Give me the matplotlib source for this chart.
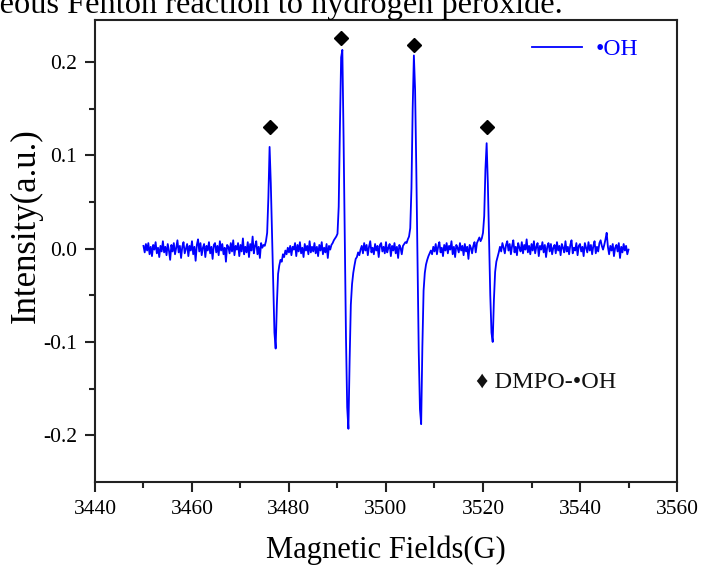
import numpy as np
import matplotlib
matplotlib.use("Agg")
import matplotlib.pyplot as plt

plt.rcParams['font.family'] = ['Liberation Serif', 'DejaVu Serif']
plt.rcParams['mathtext.fontset'] = 'stix'

# ---- data ----
field_start = 3450.0
field_step = 0.25
intensity = [
    0.003, -0.004, 0.005, -0.002, 0.006, -0.006, 0.002, -0.008, 0.004, -0.001, 0.007, -0.005, 0.001, -0.009, 0.003, -0.003, 0.008, -0.004, 0.002, -0.007,
    0.005, -0.002, -0.012, 0.004, -0.003, 0.006, -0.006, 0.001, 0.009, -0.004, 0.003, -0.010, 0.002, 0.007, -0.005, 0.000, 0.005, -0.008, 0.003, -0.002,
    0.008, -0.006, 0.002, -0.013, 0.004, 0.010, -0.003, 0.006, -0.007, 0.001, 0.005, -0.009, 0.003, -0.002, 0.007, -0.005, 0.002, -0.011, 0.004, 0.006,
    -0.004, 0.003, -0.007, 0.008, -0.002, 0.005, -0.006, 0.001, -0.014, 0.004, 0.002, -0.005, 0.006, -0.003, 0.009, -0.007, 0.003, -0.001, 0.006, -0.008,
    0.004, -0.003, 0.011, -0.006, 0.002, -0.004, 0.007, -0.009, 0.005, -0.002, 0.013, -0.005, 0.003, 0.008, -0.006, 0.002, -0.010, 0.006, 0.001, 0.004,
    0.003, 0.008, 0.017, 0.055, 0.109, 0.070, 0.015, -0.045, -0.090, -0.107, -0.060, -0.027, -0.018, -0.012, -0.014, -0.006, -0.009, -0.002, -0.006, 0.001,
    -0.004, 0.003, -0.007, 0.002, -0.001, 0.006, -0.008, 0.004, -0.003, 0.007, -0.005, 0.001, -0.009, 0.005, -0.002, 0.003, -0.006, 0.008, -0.004, 0.002,
    -0.003, 0.006, -0.005, 0.002, -0.008, 0.004, -0.002, 0.007, -0.006, 0.001, -0.004, 0.005, -0.010, 0.003, -0.001, 0.004, 0.006, 0.009, 0.011, 0.013,
    0.016, 0.045, 0.130, 0.205, 0.213, 0.120, 0.010, -0.095, -0.170, -0.193, -0.120, -0.060, -0.038, -0.026, -0.018, -0.011, -0.009, -0.004, -0.007, -0.001,
    0.003, -0.005, 0.006, -0.002, 0.004, -0.007, 0.002, 0.008, -0.004, 0.001, -0.006, 0.005, -0.002, 0.003, -0.009, 0.004, 0.006, -0.003, 0.002, -0.005,
    0.007, -0.004, 0.001, 0.005, -0.008, 0.003, -0.002, 0.006, -0.005, 0.002, -0.010, 0.004, 0.001, -0.006, 0.003, 0.005, 0.007, 0.006, 0.010, 0.013,
    0.022, 0.065, 0.150, 0.207, 0.170, 0.085, -0.015, -0.110, -0.172, -0.188, -0.105, -0.045, -0.026, -0.017, -0.012, -0.008, -0.005, -0.002, -0.006, 0.002,
    -0.003, 0.005, -0.006, 0.002, 0.007, -0.004, 0.001, -0.008, 0.004, -0.002, 0.006, -0.005, 0.003, -0.001, 0.008, -0.006, 0.002, -0.009, 0.004, 0.001,
    -0.004, 0.006, -0.002, 0.003, -0.007, 0.005, -0.003, 0.002, -0.011, 0.004, 0.001, -0.005, 0.003, 0.007, -0.004, 0.006, 0.009, 0.012, 0.008, 0.011,
    0.017, 0.035, 0.085, 0.113, 0.070, 0.010, -0.050, -0.090, -0.100, -0.055, -0.025, -0.014, -0.009, -0.004, 0.002, -0.003, 0.006, 0.001, -0.005, 0.004,
    0.008, -0.002, 0.005, -0.006, 0.003, 0.009, -0.004, 0.002, -0.007, 0.006, 0.001, -0.003, 0.007, -0.005, 0.004, -0.001, 0.010, -0.004, 0.003, -0.006,
    0.005, -0.002, 0.008, -0.005, 0.002, 0.006, -0.008, 0.003, -0.001, 0.007, -0.004, 0.004, -0.009, 0.002, 0.006, -0.003, 0.005, -0.006, 0.001, 0.004,
    -0.005, 0.007, -0.002, 0.003, -0.007, 0.005, 0.001, -0.004, 0.008, -0.003, 0.002, -0.006, 0.004, 0.009, -0.005, 0.001, -0.002, 0.006, -0.007, 0.003,
    0.005, -0.003, 0.002, -0.008, 0.006, 0.001, -0.004, 0.007, -0.002, 0.004, -0.006, 0.003, 0.008, -0.005, 0.002, -0.003, 0.006, 0.009, 0.003, -0.001,
    0.004, 0.010, 0.017, 0.002, -0.006, 0.003, -0.002, 0.005, -0.008, 0.001, 0.004, -0.003, 0.006, -0.010, 0.002, -0.004, 0.005, -0.002, 0.003, -0.006,
    -0.001,
]
field = field_start + field_step * np.arange(len(intensity))

marker_fields = [3476.1, 3490.7, 3505.8, 3520.8]
marker_heights = [0.130, 0.226, 0.218, 0.130]

x_ticks = [3440, 3460, 3480, 3500, 3520, 3540, 3560]
y_ticks = [-0.2, -0.1, 0.0, 0.1, 0.2]
y_tick_labels = ['-0.2', '-0.1', '0.0', '0.1', '0.2']

# ---- figure ----
fig = plt.figure(figsize=(7.02, 5.65), dpi=100)
ax = fig.add_axes([0.1353, 0.1469, 0.8291, 0.8177])

ax.plot(field, intensity, color='#0000ff', lw=1.3, label='\u2022OH')
ax.plot(marker_fields, marker_heights, linestyle='none', marker='D',
        color='black', markersize=7)

ax.set_xlim(3440, 3560)
ax.set_ylim(-0.25, 0.245)
ax.set_xticks(x_ticks)
ax.set_xticks(np.arange(3450, 3560, 20), minor=True)
ax.set_yticks(y_ticks)
ax.set_yticklabels(y_tick_labels)
ax.set_yticks([-0.15, -0.05, 0.05, 0.15], minor=True)

for s in ax.spines.values():
    s.set_linewidth(1.5)
    s.set_color('#222222')
ax.tick_params(which='both', direction='out', width=1.5, top=False, right=False,
               labelsize=15.5, color='#222222')
ax.tick_params(which='major', length=7, pad=6)
ax.tick_params(which='minor', length=4.5)

ax.set_xlabel('Magnetic Fields(G)', fontsize=22, labelpad=12)
ax.set_ylabel('Intensity(a.u.)', fontsize=25)
ax.yaxis.set_label_coords(-0.09, 0.556)

leg = ax.legend(loc='upper right', bbox_to_anchor=(0.954, 0.985), frameon=False,
                fontsize=17, handlelength=2.1, handletextpad=0.6, borderpad=0,
                labelcolor='#0000ff')

ax.text(0.655, 0.215, '\u2666 DMPO-\u2022OH', transform=ax.transAxes,
        fontsize=17.5, va='center', ha='left', color='#111111')

fig.text(0.802, 1 - 12.6 / 565, 'aqueous Fenton reaction to hydrogen peroxide.',
         fontsize=23.3, ha='right', va='baseline')

fig.savefig('out.png', dpi=100)
